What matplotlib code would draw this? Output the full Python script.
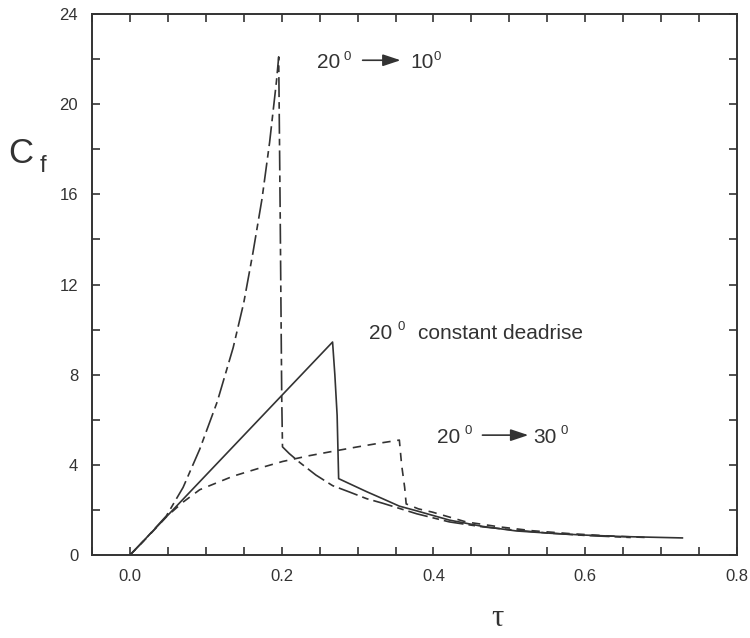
import matplotlib
matplotlib.use("Agg")
import matplotlib.pyplot as plt
from matplotlib.ticker import MultipleLocator

# 20 deg -> 10 deg (long dash / dash-dot)
tau_10 = [0.0, 0.02, 0.048, 0.07, 0.092, 0.115, 0.136, 0.15, 0.162, 0.174, 0.184,
          0.193, 0.196, 0.198, 0.200, 0.201, 0.21, 0.224, 0.245, 0.267, 0.289,
          0.312, 0.333, 0.378, 0.421, 0.465, 0.5, 0.55, 0.6, 0.66]
cf_10 = [0.0, 0.7, 1.74, 3.0, 4.7, 6.8, 9.2, 11.2, 13.4, 15.8, 18.3,
         21.0, 22.1, 15.0, 7.0, 4.8, 4.5, 4.1, 3.55, 3.08, 2.8,
         2.5, 2.3, 1.83, 1.47, 1.25, 1.13, 0.98, 0.87, 0.78]

# 20 deg constant deadrise (solid)
tau_c = [0.0, 0.267, 0.270, 0.273, 0.275, 0.289, 0.312, 0.333, 0.355, 0.378, 0.4,
         0.421, 0.465, 0.509, 0.553, 0.596, 0.65, 0.728]
cf_c = [0.0, 9.45, 8.0, 6.2, 3.39, 3.17, 2.81, 2.5, 2.17, 1.96, 1.75,
        1.55, 1.27, 1.07, 0.97, 0.89, 0.82, 0.76]

# 20 deg -> 30 deg (short dash)
tau_30 = [0.0, 0.026, 0.048, 0.07, 0.092, 0.136, 0.17, 0.201, 0.235, 0.267, 0.3,
          0.33, 0.355, 0.358, 0.362, 0.364, 0.38, 0.399, 0.443, 0.487, 0.53,
          0.58, 0.63, 0.68]
cf_30 = [0.0, 0.9, 1.7, 2.35, 2.9, 3.5, 3.85, 4.15, 4.4, 4.6, 4.8,
         4.97, 5.1, 4.0, 3.0, 2.27, 2.05, 1.9, 1.47, 1.25, 1.08,
         0.95, 0.85, 0.78]

ink = "#333333"
sans = "Liberation Sans"

fig = plt.figure(figsize=(7.5, 6.38), dpi=100)
ax = fig.add_axes([0.1227, 0.130, 0.860, 0.848])

ax.plot(tau_10, cf_10, color=ink, linewidth=1.2, dashes=(12, 3, 4, 3))
ax.plot(tau_c, cf_c, color=ink, linewidth=1.2)
ax.plot(tau_30, cf_30, color=ink, linewidth=1.2, dashes=(5, 4))

ax.set_xlim(-0.05, 0.8)
ax.set_ylim(0, 24)
ax.xaxis.set_major_locator(MultipleLocator(0.2))
ax.xaxis.set_minor_locator(MultipleLocator(0.05))
ax.yaxis.set_major_locator(MultipleLocator(4))
ax.yaxis.set_minor_locator(MultipleLocator(2))
ax.xaxis.set_major_formatter(plt.FuncFormatter(lambda v, p: f"{v:.1f}"))
ax.tick_params(which="both", direction="in", length=6, width=1.2, color=ink,
               top=True, right=True, labelsize=12, labelcolor=ink)
ax.tick_params(axis="x", pad=10)
ax.tick_params(axis="y", pad=10)
for s in ax.spines.values():
    s.set_linewidth(1.4)
    s.set_color(ink)
for lab in ax.get_xticklabels() + ax.get_yticklabels():
    lab.set_family(sans)


def degree_label(x, y, num, xs, ys):
    ax.text(x, y, num, fontsize=15, family=sans, color=ink, va="baseline")
    ax.text(xs, ys, "0", fontsize=9.5, family=sans, color=ink, va="baseline")


def arrow(x0, x1, y):
    ax.annotate("", xy=(x1, y), xytext=(x0, y),
                arrowprops=dict(arrowstyle="-|>,head_length=0.6,head_width=0.2",
                                color=ink, lw=1.2, mutation_scale=18,
                                shrinkA=0, shrinkB=0))


# 20 -> 10
degree_label(0.246, 21.6, "20", 0.282, 21.95)
arrow(0.3066, 0.3566, 21.95)
degree_label(0.369, 21.6, "10", 0.400, 21.95)

# constant deadrise
degree_label(0.315, 9.58, "20", 0.352, 9.98)
ax.text(0.380, 9.58, "constant deadrise", fontsize=15, family=sans, color=ink, va="baseline")

# 20 -> 30
degree_label(0.404, 4.97, "20", 0.441, 5.37)
arrow(0.4645, 0.525, 5.32)
degree_label(0.532, 4.97, "30", 0.567, 5.37)

# axis labels
fig.text(8 / 750, 1 - 163 / 638, "C", fontsize=25, family=sans, color=ink, va="baseline")
fig.text(40 / 750, 1 - 172 / 638, "f", fontsize=17, family=sans, color=ink, va="baseline")
fig.text(497 / 750, 1 - 618 / 638, "\u03c4", fontsize=22, family="Liberation Serif",
         color=ink, ha="center", va="center")

fig.savefig("out.png", dpi=100)
